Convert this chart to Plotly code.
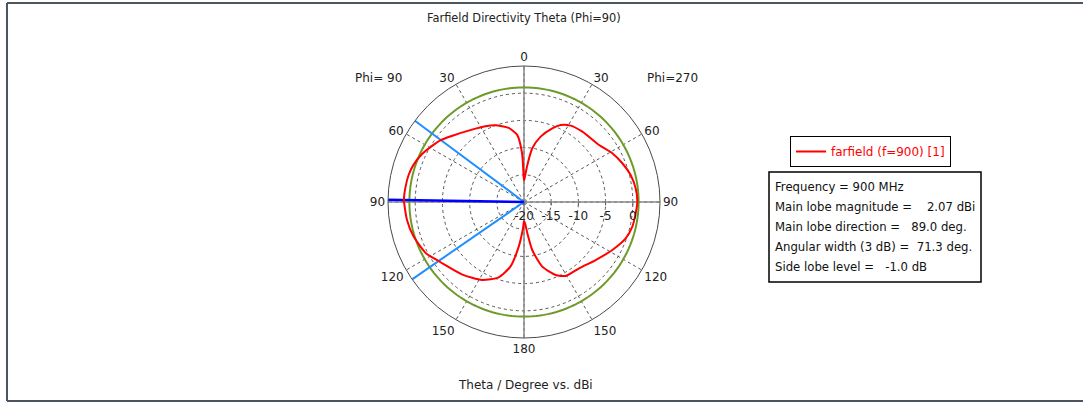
import plotly.graph_objects as go

# Directivity cut, theta in degrees, values in dBi
theta_phi90 = [0, 1, 2.3, 5.9, 11.7, 20.5, 27.1, 35.7, 47.6, 53.4, 57.1, 65.1, 71.3,
               76.7, 83.3, 89, 98.7, 107.4, 117.5, 124.65, 127.5, 139.7, 151.7,
               161.4, 168.1, 173.2, 177.3, 180]
dbi_phi90 = [-16.0, -15.0, -11.0, -7.55, -6.1, -4.95, -4.37, -3.62, -2.0, -0.93, -0.4,
             0.75, 1.42, 1.78, 1.97, 2.07, 1.76, 1.26, 0.35, -0.93, -1.3, -2.5, -3.71,
             -5.39, -7.85, -11.7, -14.85, -16.5]

theta_phi270 = [0, 1, 5.1, 8.8, 14.3, 21, 25.5, 31.4, 39.7, 52.8, 61.1, 68.5, 75.8,
                83, 90, 95.8, 102.8, 109.7, 118.5, 129, 140.3, 150.6, 156.5, 164.2,
                170.2, 173.9, 176.8, 180]
dbi_phi270 = [-16.0, -15.8, -13.2, -10.0, -7.6, -5.5, -4.32, -3.55, -3.2, -2.68, -1.46,
              -0.57, 0.22, 0.68, 0.83, 0.63, 0.42, -0.15, -1.52, -3.05, -4.16, -4.39,
              -5.37, -7.65, -11.0, -14.2, -16.0, -16.5]

# Farfield summary
frequency_mhz = 900
main_lobe_dbi = 2.07
main_lobe_dir = 89.0
angular_width = 71.3
side_lobe_db = -1.0

r_min, r_max = -20, 5
r_ticks = [-20, -15, -10, -5, 0]
r_text = ["-20", "-15", "-10", "-5", "0"]
ang_ticks = list(range(0, 360, 30))
ang_text = ["0", "30", "60", "90", "120", "150", "180", "150", "120", "90", "60", "30"]

W, H = 1083, 403
cx, cy, R = 524, 202, 136


def px(x):
    return x / W


def py(y):
    return 1 - y / H


# Left half of the plot holds Phi=90, right half Phi=270 (mirrored theta)
plot_theta = theta_phi90 + [360 - t for t in reversed(theta_phi270)]
plot_r = dbi_phi90 + list(reversed(dbi_phi270))

font = "DejaVu Sans"
fig = go.Figure()

# solid cross-hair axes
for a in (0, 90, 180, 270):
    fig.add_trace(go.Scatterpolar(theta=[a, a], r=[r_min, r_max], mode="lines",
                                  line=dict(color="#8a8a8a", width=1.5),
                                  showlegend=False, hoverinfo="skip"))

# side lobe level circle
sll = main_lobe_dbi + side_lobe_db
fig.add_trace(go.Scatterpolar(theta=list(range(0, 361, 2)), r=[sll] * 181, mode="lines",
                              line=dict(color="#6e9a2a", width=2),
                              showlegend=False, hoverinfo="skip"))

# 3 dB angular width
for a in (main_lobe_dir - angular_width / 2, main_lobe_dir + angular_width / 2):
    fig.add_trace(go.Scatterpolar(theta=[a, a], r=[r_min, r_max], mode="lines",
                                  line=dict(color="#1f8fff", width=2),
                                  showlegend=False, hoverinfo="skip"))

# main lobe direction
fig.add_trace(go.Scatterpolar(theta=[main_lobe_dir, main_lobe_dir], r=[r_min, r_max],
                              mode="lines", line=dict(color="#0000ff", width=2.5),
                              showlegend=False, hoverinfo="skip"))

fig.add_trace(go.Scatterpolar(theta=plot_theta, r=plot_r, mode="lines",
                              name="farfield (f=900) [1]",
                              line=dict(color="#ff0000", width=2, shape="spline",
                                        smoothing=0.6)))

fig.update_layout(
    width=W, height=H,
    margin=dict(l=0, r=0, t=0, b=0),
    paper_bgcolor="white",
    font=dict(family=font, size=12, color="#222222"),
    polar=dict(
        domain=dict(x=[px(cx - R), px(cx + R)], y=[py(cy + R), py(cy - R)]),
        bgcolor="white",
        angularaxis=dict(rotation=90, direction="counterclockwise",
                         tickmode="array", tickvals=ang_ticks, ticktext=ang_text,
                         showline=True, linecolor="#4a4a4a", linewidth=1,
                         showgrid=True, gridcolor="#555555", gridwidth=1,
                         griddash="3px,3px", ticks="",
                         tickfont=dict(family=font, size=12, color="#222222")),
        radialaxis=dict(range=[r_min, r_max], angle=0, side="clockwise",
                        tickangle=0,
                        tickmode="array", tickvals=r_ticks, ticktext=r_text,
                        showline=False, showgrid=True, gridcolor="#555555",
                        gridwidth=1, griddash="3px,3px",
                        ticks="outside", ticklen=3, tickcolor="#555555",
                        tickfont=dict(family=font, size=12, color="#222222")),
    ),
    legend=dict(x=px(790), y=py(136), xanchor="left", yanchor="top",
                bordercolor="#000000", borderwidth=1, bgcolor="white",
                font=dict(family=font, size=12, color="#ff0000")),
    showlegend=True,
)

# outer frame
frame = dict(type="line", xref="paper", yref="paper", line=dict(color="#4d5560", width=2))
fig.add_shape(**frame, x0=px(7), x1=1, y0=py(3), y1=py(3))
fig.add_shape(**frame, x0=px(7), x1=px(7), y0=py(3), y1=py(401))
fig.add_shape(**frame, x0=px(7), x1=1, y0=py(401), y1=py(401))

# summary box
fig.add_shape(type="rect", xref="paper", yref="paper", x0=px(769), x1=px(981),
              y0=py(282), y1=py(172), line=dict(color="#000000", width=1.5),
              fillcolor="white")
nb = "\u00a0"
info_lines = [
    f"Frequency = {frequency_mhz} MHz",
    f"Main lobe magnitude ={nb * 4}{main_lobe_dbi:.2f} dBi",
    f"Main lobe direction ={nb * 3}{main_lobe_dir:.1f} deg.",
    f"Angular width (3 dB) ={nb * 2}{angular_width:.1f} deg.",
    f"Side lobe level ={nb * 3}{side_lobe_db:.1f} dB",
]
for i, t in enumerate(info_lines):
    fig.add_annotation(text=t, xref="paper", yref="paper", x=px(773), y=py(187 + 20 * i),
                       xanchor="left", yanchor="middle", showarrow=False,
                       font=dict(family=font, size=11.7, color="#111111"))

texts = [
    ("Farfield Directivity Theta (Phi=90)", 524, 18, 11.4),
    ("Theta / Degree vs. dBi", 525, 385, 12),
    ("Phi= 90", 378, 78, 12),
    ("Phi=270", 672, 78, 12),
]
for t, x, y, s in texts:
    fig.add_annotation(text=t, xref="paper", yref="paper", x=px(x), y=py(y),
                       xanchor="center", yanchor="middle", showarrow=False,
                       font=dict(family=font, size=s, color="#222222"))

fig.write_html("out.html")
